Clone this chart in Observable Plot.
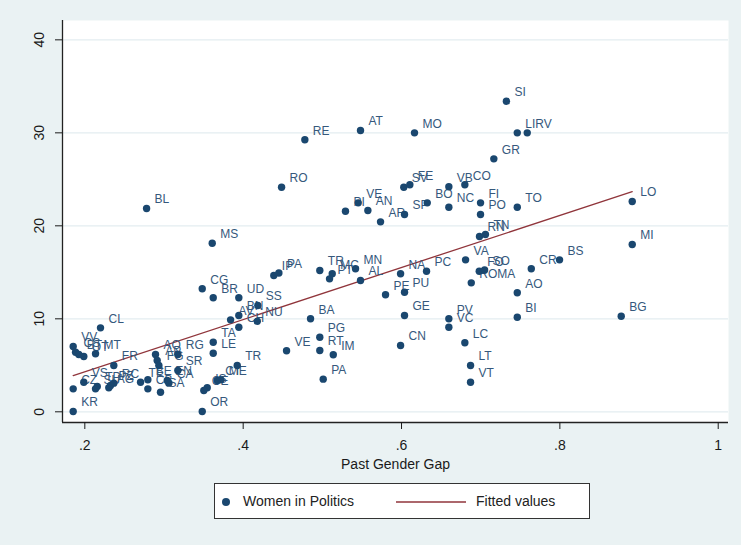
<!DOCTYPE html>
<html><head><meta charset="utf-8">
<script src="https://cdn.jsdelivr.net/npm/d3@7"></script>
<script src="https://cdn.jsdelivr.net/npm/@observablehq/plot@0.6"></script>
<style>
html,body{margin:0;padding:0;background:#eaf2f3;}
#wrap{position:relative;width:741px;height:545px;background:#eaf2f3;font-family:"Liberation Sans",Arial,sans-serif;}
#legend{position:absolute;left:214px;top:483px;width:374px;height:34px;background:#fff;border:1.5px solid #333;}
#legend .it{position:absolute;top:0;height:34px;line-height:34px;font-size:14px;color:#222;}
</style></head>
<body><div id="wrap"><div id="chart"></div>
<div id="legend">
 <svg width="374" height="34" style="position:absolute;left:0;top:0">
  <circle cx="11" cy="18" r="4" fill="#1a476f"></circle>
  <line x1="181" x2="251" y1="18" y2="18" stroke="#90353b" stroke-width="1.3"></line>
 </svg>
 <span class="it" style="left:28px">Women in Politics</span>
 <span class="it" style="left:261px">Fitted values</span>
</div></div>
<script>
const provinces = ["SI","LI","RV","GR","MO","AT","RE","RO","BL","PI","VE","AN","AR","SP","SV","FE","BO","NC","VB","CO","FI","PO","TO","RN","TN","VA","FO","SO","ROMA","CR","BS","AO","BI","LO","MI","BG","NA","PC","PE","PU","GE","CN","PV","VC","LC","LT","VT","MN","AL","TR","MC","PT","BA","PG","RT","IM","PA","VE","MS","CG","BR","UD","SS","IP","PA","AV","BN","NU","CH","TA","LE","TR","ME","CT","IS","CE","OR","SR","RG","CA","EN","SA","AQ","AP","FG","TE","BE","CB","RC","PZ","AG","TP","SU","VS","CZ","KR","FR","CL","VV","CS","BT","OT","MT"];
const pastGenderGap = [0.7325,0.7462,0.7588,0.7166,0.6164,0.5482,0.4779,0.4485,0.2780,0.5292,0.5453,0.5575,0.5735,0.6038,0.6029,0.6105,0.6325,0.6598,0.6598,0.6800,0.6998,0.6998,0.7462,0.6985,0.7060,0.6809,0.6982,0.7049,0.6881,0.7639,0.7996,0.7462,0.7462,0.8914,0.8914,0.8775,0.5988,0.6316,0.5798,0.6038,0.6038,0.5988,0.6598,0.6598,0.6800,0.6872,0.6872,0.5419,0.5482,0.4968,0.5125,0.5091,0.4851,0.4968,0.4968,0.5138,0.5011,0.4548,0.3609,0.3483,0.3622,0.3945,0.4185,0.4387,0.4451,0.3841,0.3945,0.4178,0.3945,0.3622,0.3622,0.3925,0.3717,0.3672,0.3546,0.3503,0.3483,0.3175,0.3175,0.3061,0.3041,0.2956,0.2893,0.2914,0.2935,0.2704,0.2796,0.2796,0.2366,0.2325,0.2303,0.2157,0.2135,0.1987,0.1853,0.1853,0.2366,0.2198,0.1853,0.1883,0.1924,0.1987,0.2135];
const womenInPolitics = [33.40,30.00,30.00,27.20,30.00,30.25,29.25,24.15,21.86,21.57,22.47,21.65,20.43,21.22,24.15,24.41,22.47,22.00,24.20,24.41,22.47,21.22,22.00,18.85,19.06,16.34,15.12,15.25,13.87,15.38,16.34,12.80,10.17,22.61,17.99,10.28,14.84,15.12,12.58,12.86,10.35,7.13,10.00,9.10,7.42,4.98,3.18,15.38,14.12,15.19,14.84,14.30,10.00,8.02,6.59,6.13,3.51,6.56,18.13,13.23,12.26,12.26,11.43,14.66,14.93,9.89,10.35,9.74,9.10,7.48,6.30,4.98,3.44,3.37,2.58,2.29,0.03,4.44,6.16,3.08,3.37,2.11,6.16,5.52,4.98,3.18,3.44,2.47,3.08,2.83,2.58,2.72,2.47,3.18,2.47,0.03,4.98,9.03,7.02,6.41,6.16,5.95,6.24];
const xTicks = [0.2, 0.4, 0.6, 0.8, 1];
const yTicks = [0, 10, 20, 30, 40];
const xDomain = [0.1718, 1.013];
const yDomain = [-1.15, 42.08];

const data = provinces.map((p, i) => ({name: p, gap: pastGenderGap[i], women: womenInPolitics[i]}));

const chart = Plot.plot({
  width: 741, height: 480,
  marginLeft: 62, marginRight: 13, marginTop: 20, marginBottom: 58,
  style: {fontFamily: '"Liberation Sans", Arial, sans-serif', background: "transparent", color: "#1a1a1a"},
  x: {domain: xDomain},
  y: {domain: yDomain},
  marks: [
    Plot.frame({fill: "white", stroke: null}),
    Plot.gridY(yTicks, {stroke: "#e3edf0", strokeOpacity: 1, strokeWidth: 1.2}),
    Plot.ruleX([xDomain[0]], {stroke: "#222", strokeWidth: 1.3}),
    Plot.ruleY([yDomain[0]], {stroke: "#222", strokeWidth: 1.3}),
    Plot.axisX({ticks: xTicks, tickSize: 7, tickPadding: 11, fontSize: 14,
      tickFormat: d => d === 1 ? "1" : String(d).replace(/^0/, ""),
      label: "Past Gender Gap", labelAnchor: "center", labelOffset: 46, labelArrow: "none"}),
    Plot.axisY({ticks: yTicks, tickSize: 7, tickPadding: 12, fontSize: 14, tickRotate: -90, label: null}),
    Plot.linearRegressionY(data, {x: "gap", y: "women", stroke: "#90353b", strokeWidth: 1.3, ci: 0}),
    Plot.text(data, {x: "gap", y: "women", text: "name", dx: 8, dy: -9, textAnchor: "start", fontSize: 12, fill: "#35587c"}),
    Plot.dot(data, {x: "gap", y: "women", r: 3.7, fill: "#1a476f", stroke: null})
  ]
});
document.getElementById("chart").appendChild(chart);
</script></body></html>
